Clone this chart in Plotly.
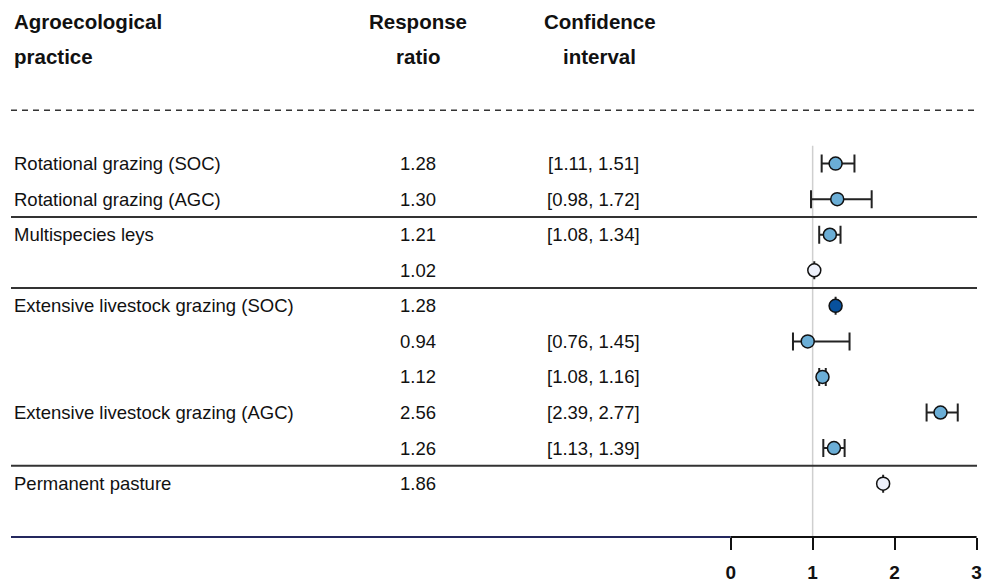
import plotly.graph_objects as go

# Forest-plot table: practice, response ratio and 95% confidence interval
practice = [
    "Rotational grazing (SOC)",
    "Rotational grazing (AGC)",
    "Multispecies leys",
    "",
    "Extensive livestock grazing (SOC)",
    "",
    "",
    "Extensive livestock grazing (AGC)",
    "",
    "Permanent pasture",
]
ratio = [1.28, 1.30, 1.21, 1.02, 1.28, 0.94, 1.12, 2.56, 1.26, 1.86]
ci_low = [1.11, 0.98, 1.08, None, None, 0.76, 1.08, 2.39, 1.13, None]
ci_high = [1.51, 1.72, 1.34, None, None, 1.45, 1.16, 2.77, 1.39, None]
# marker fill class: "ci" = with interval, "dark" / "light" = single estimates
fill_class = ["ci", "ci", "ci", "light", "dark", "ci", "ci", "ci", "ci", "light"]
group_breaks = [1.5, 3.5, 8.5]
x_ticks = [0, 1, 2, 3]

FILL = {"ci": "#6baed6", "dark": "#08519c", "light": "#eef1fb"}
FONT = "Liberation Sans, Arial, sans-serif"
X_MIN, X_MAX = -8.78, 3.005
rows = list(range(len(ratio)))

err_plus = [(h - r) if h is not None else None for r, h in zip(ratio, ci_high)]
err_minus = [(r - l) if l is not None else None for r, l in zip(ratio, ci_low)]

fig = go.Figure()
fig.add_trace(go.Scatter(
    x=ratio, y=rows, mode="markers",
    marker=dict(symbol="circle", size=13,
                color=[FILL[c] for c in fill_class],
                line=dict(color="#111111", width=1.5)),
    error_x=dict(type="data", symmetric=False, array=err_plus,
                 arrayminus=err_minus, color="#222222", thickness=2, width=9),
    hoverinfo="skip", showlegend=False, cliponaxis=False,
))

ann = []
def txt(x, y, s, anchor, size, bold=False):
    ann.append(dict(x=x, y=y, xref="x", yref="y", text=f"<b>{s}</b>" if bold else s,
                    showarrow=False, xanchor=anchor, yanchor="middle",
                    font=dict(family=FONT, size=size, color="#111111")))

COL_NAME, COL_RATIO, COL_CI, COL_CI_HEAD = -8.77, -3.82, -1.67, -1.60
HEAD, BODY = 20.5, 18.5
# column headers
txt(COL_NAME, -4, "Agroecological", "left", HEAD, True)
txt(COL_NAME, -3, "practice", "left", HEAD, True)
txt(COL_RATIO, -4, "Response", "center", HEAD, True)
txt(COL_RATIO, -3, "ratio", "center", HEAD, True)
txt(COL_CI_HEAD, -4, "Confidence", "center", HEAD, True)
txt(COL_CI_HEAD, -3, "interval", "center", HEAD, True)

for i in rows:
    if practice[i]:
        txt(COL_NAME, i, practice[i], "left", BODY)
    txt(COL_RATIO, i, f"{ratio[i]:.2f}", "center", BODY)
    if ci_low[i] is not None:
        txt(COL_CI, i, f"[{ci_low[i]:.2f}, {ci_high[i]:.2f}]", "center", BODY)

shapes = [
    # reference line at ratio = 1
    dict(type="line", xref="x", yref="y", x0=1, x1=1, y0=-0.5, y1=10.5,
         line=dict(color="#cfcfcf", width=1.5), layer="below"),
    # dashed rule under the header
    dict(type="line", xref="paper", yref="y", x0=0, x1=1, y0=-1.5, y1=-1.5,
         line=dict(color="#333333", width=1.5, dash="6px,5px")),
    # bottom rule and axis line
    dict(type="line", xref="x", yref="paper", x0=X_MIN, x1=0, y0=0, y1=0,
         line=dict(color="#24285e", width=2)),
    dict(type="line", xref="x", yref="paper", x0=0, x1=3, y0=0, y1=0,
         line=dict(color="#111111", width=2)),
]
for b in group_breaks:
    shapes.append(dict(type="line", xref="paper", yref="y", x0=0, x1=1, y0=b, y1=b,
                       line=dict(color="#333333", width=2)))

fig.update_layout(
    width=982, height=585,
    margin=dict(l=11, r=5, t=0, b=48),
    paper_bgcolor="white", plot_bgcolor="white",
    annotations=ann, shapes=shapes,
    xaxis=dict(range=[X_MIN, X_MAX], tickvals=x_ticks,
               ticktext=[f"<b>{t}</b>" for t in x_ticks],
               ticks="outside", ticklen=12, tickwidth=2, tickcolor="#111111",
               showgrid=False, zeroline=False, showline=False,
               ticklabeloverflow="allow",
               tickfont=dict(family=FONT, size=19, color="#111111"),
               ticklabelstandoff=6, fixedrange=True),
    yaxis=dict(range=[10.5, -4.6], visible=False, showgrid=False, zeroline=False,
               fixedrange=True),
)

fig.write_html("out.html")
